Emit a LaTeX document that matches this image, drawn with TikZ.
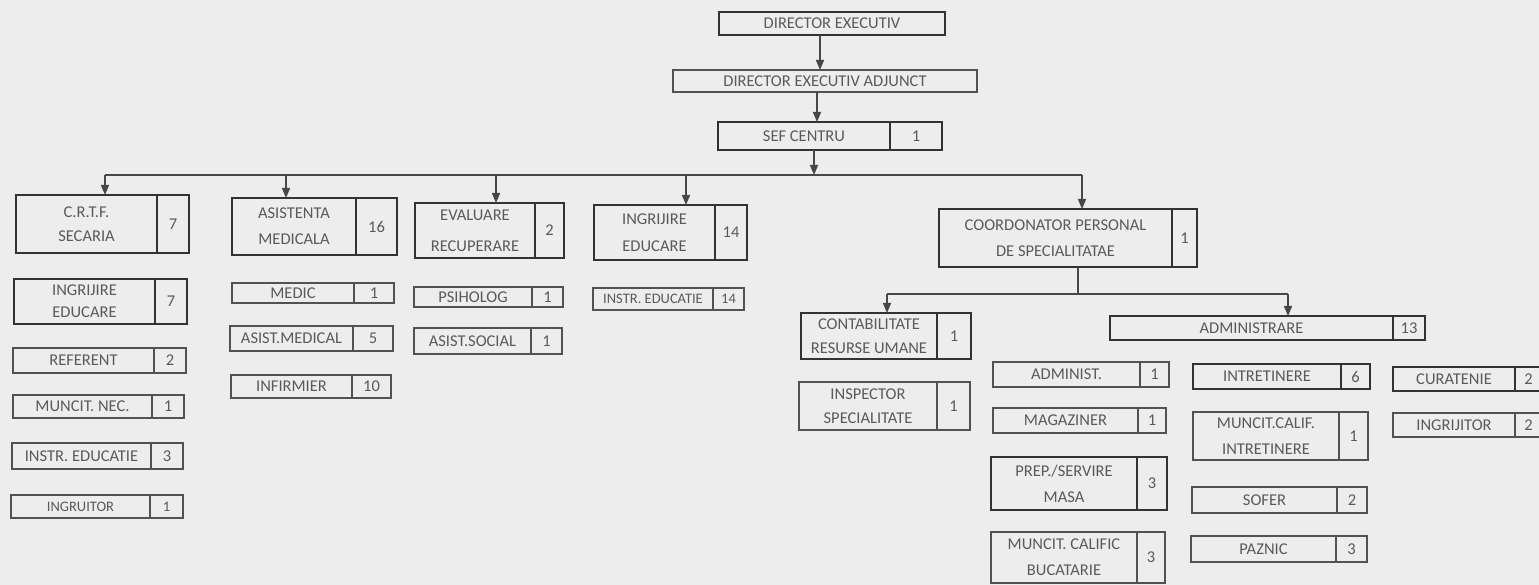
\documentclass[tikz,border=0pt]{standalone}
\usepackage{fontspec}
\setmainfont{Carlito}
\usetikzlibrary{arrows.meta}
\definecolor{bg}{HTML}{EDEDED}
\definecolor{txt}{HTML}{5A5A5A}
\definecolor{edge}{HTML}{333333}
\tikzset{
  cellbase/.style={inner sep=0pt, outer sep=0pt, align=center, text=txt,
    font=\fontsize{16.5}{24}\selectfont},
  cellT/.style={draw=edge, line width=2.4pt},
  cellt/.style={draw=edge!85, line width=1.3pt},
  smallfont/.style={font=\fontsize{14.5}{20}\selectfont},
  conn/.style={draw=edge!90, line width=1.4pt},
  arr/.style={conn, -{Triangle[width=8pt,length=10pt]}},
}
% #1 style, #2 name, #3 x1, #4 y1, #5 x divider, #6 x2, #7 y2, #8 text, #9 number
\newcommand\bx[9]{%
  \node[cellbase,#1,minimum width={(#5-#3)*1pt},minimum height={(#7-#4)*1pt}]
    (#2) at ({(#3+#5)/2},{(#4+#7)/2}) {#8};
  \node[cellbase,#1,minimum width={(#6-#5)*1pt},minimum height={(#7-#4)*1pt}]
    (#2n) at ({(#5+#6)/2},{(#4+#7)/2}) {#9};
}
\begin{document}
\begin{tikzpicture}[x=1pt,y=-1pt]
\fill[bg] (0,0) rectangle (1539,585);
\useasboundingbox (0,0) rectangle (1539,585);

% top chain
\node[cellbase,cellT,minimum width=226pt,minimum height=23pt] (de) at (832,23.5) {DIRECTOR EXECUTIV};
\node[cellbase,cellt,minimum width=304pt,minimum height=22pt] (dea) at (825,81) {DIRECTOR EXECUTIV ADJUNCT};
\bx{cellT}{sef}{718}{122}{890}{942}{150}{SEF CENTRU}{1}

% column 1
\bx{cellT}{crtf}{16}{195}{157}{189}{253}{C.R.T.F.\\SECARIA}{7}
\bx{cellT}{ingl}{14}{279}{155}{187}{324}{INGRIJIRE\\[-2pt]EDUCARE}{7}
\bx{cellt}{ref}{13}{348}{154}{186}{373}{REFERENT}{2}
\bx{cellt}{mnec}{13}{395}{152}{184}{418}{MUNCIT. NEC.}{1}
\bx{cellt}{instrl}{12}{443}{151}{183}{469}{INSTR. EDUCATIE}{3}
\bx{cellt,smallfont}{ingrl}{11}{495}{150}{183}{518}{INGRUITOR}{1}

% column 2
\bx{cellT}{asist}{232}{198}{356}{397}{255}{ASISTENTA\\[2pt]MEDICALA}{16}
\bx{cellt}{medic}{232}{283}{354}{394}{303}{MEDIC}{1}
\bx{cellt}{asmed}{230}{326}{353}{393}{351}{ASIST.MEDICAL}{5}
\bx{cellt}{infirm}{231}{375}{352}{391}{398}{INFIRMIER}{10}

% column 3
\bx{cellT}{eval}{415}{203}{535}{564}{258}{EVALUARE\\[7pt]RECUPERARE}{2}
\bx{cellt}{psih}{414}{287}{532}{563}{307}{PSIHOLOG}{1}
\bx{cellt}{assoc}{414}{328}{531}{562}{354}{ASIST.SOCIAL}{1}

% column 4
\bx{cellT}{ingm}{594}{205}{715}{747}{260}{INGRIJIRE\\[3pt]EDUCARE}{14}
\bx{cellt,smallfont}{instrm}{593}{288}{713}{744}{310}{INSTR. EDUCATIE}{14}

% coordinator branch
\bx{cellT}{coord}{939}{209}{1172}{1197}{267}{COORDONATOR PERSONAL\\[2pt]DE SPECIALITATAE}{1}
\bx{cellT}{contab}{801}{313}{937}{971}{359}{CONTABILITATE\\RESURSE UMANE}{1}
\bx{cellt}{insp}{799}{382}{937}{970}{430}{INSPECTOR\\SPECIALITATE}{1}
\bx{cellT}{admin}{1110}{316}{1393}{1425}{340}{ADMINISTRARE}{13}

\bx{cellt}{admst}{993}{362}{1140}{1169}{387}{ADMINIST.}{1}
\bx{cellt}{magaz}{993}{408}{1138}{1166}{433}{MAGAZINER}{1}
\bx{cellT}{prep}{991}{457}{1137}{1167}{510}{PREP./SERVIRE\\[2pt]MASA}{3}
\bx{cellt}{mcb}{991}{532}{1137}{1165}{583}{MUNCIT. CALIFIC\\[2pt]BUCATARIE}{3}

\bx{cellT}{intr}{1193}{364}{1341}{1370}{389}{INTRETINERE}{6}
\bx{cellt}{mci}{1193}{412}{1339}{1368}{460}{MUNCIT.CALIF.\\[2pt]INTRETINERE}{1}
\bx{cellt}{sofer}{1192}{487}{1337}{1367}{513}{SOFER}{2}
\bx{cellt}{paznic}{1191}{536}{1336}{1367}{562}{PAZNIC}{3}

\bx{cellT}{curat}{1393}{367}{1515}{1542}{391}{CURATENIE}{2}
\bx{cellt}{ingrr}{1393}{413}{1515}{1542}{437}{INGRIJITOR}{2}

% connectors
\coordinate (xa) at (820,0);
\coordinate (xb) at (817,0);
\coordinate (xc) at (814,0);
\coordinate (busy) at (0,175);
\draw[arr] (xa |- de.south) -- (xa |- dea.north);
\draw[arr] (xb |- dea.south) -- (xb |- sef.north);
\draw[arr] (xc |- sef.south) -- (xc |- busy);

\coordinate (b1) at (105,175);
\coordinate (b2) at (286,175);
\coordinate (b3) at (496,175);
\coordinate (b4) at (686,175);
\coordinate (b5) at (1082,175);
\draw[conn] (b1) -- (b5);
\draw[arr] (b1) -- (b1 |- crtf.north);
\draw[arr] (b2) -- (b2 |- asist.north);
\draw[arr] (b3) -- (b3 |- eval.north);
\draw[arr] (b4) -- (b4 |- ingm.north);
\draw[arr] (b5) -- (b5 |- coord.north);

\coordinate (cv) at (1078,294);
\coordinate (c1) at (887,294);
\coordinate (c2) at (1288,294);
\draw[conn] (cv |- coord.south) -- (cv);
\draw[conn] (c1) -- (c2);
\draw[arr] (c1) -- (c1 |- contab.north);
\draw[arr] (c2) -- (c2 |- admin.north);
\end{tikzpicture}
\end{document}
